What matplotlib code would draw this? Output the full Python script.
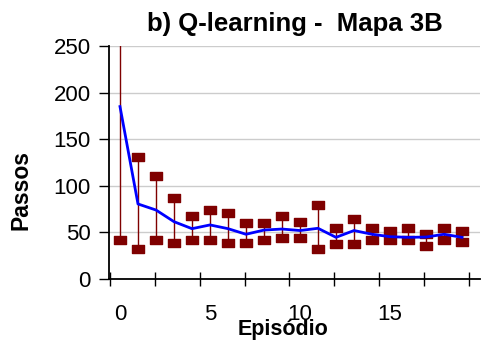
import matplotlib
matplotlib.use("Agg")
import matplotlib.pyplot as plt
from matplotlib.path import Path
import numpy as np

plt.rcParams['font.family'] = ['Liberation Sans', 'DejaVu Sans']

episodes = list(range(20))
mean_steps = [185, 80.5, 74, 61.5, 54, 58, 54, 48, 52.5, 53.6,
              52, 54.4, 44.7, 52, 48, 45.4, 44.7, 45, 48, 44.7]
lower_steps = [42, 32, 42, 39, 42, 42, 39, 39, 42, 43.7,
               43.7, 32, 38, 38, 42, 42, 42, 35.4, 42, 39.4]
upper_steps = [300, 131, 110, 87, 68, 74, 71, 60, 60, 68,
               61.5, 79, 55, 64.4, 55, 51.5, 55, 48, 55, 51.5]
y_ticks = [0, 50, 100, 150, 200, 250]
x_label_ticks = [0, 5, 10, 15]
x_mark_ticks = [-0.56 + 2.494 * k for k in range(9)]

red = '#7f0000'
fig = plt.figure(figsize=(4.83, 3.48), dpi=100)
ax = fig.add_axes([0.2257, 0.1983, 0.9938 - 0.2257, 0.8678 - 0.1983])

for e, lo, hi in zip(episodes, lower_steps, upper_steps):
    ax.plot([e, e], [lo, hi], color=red, lw=1.0, zorder=2)

rect = Path([(-1.4, -1), (1.4, -1), (1.4, 1), (-1.4, 1), (-1.4, -1)],
            [Path.MOVETO, Path.LINETO, Path.LINETO, Path.LINETO, Path.CLOSEPOLY])
ax.plot(episodes, lower_steps, ls='none', marker=rect, ms=9, color=red,
        mec=red, zorder=3)
ax.plot(episodes, upper_steps, ls='none', marker=rect, ms=9, color=red,
        mec=red, zorder=3)
ax.plot(episodes, mean_steps, color='#0000ff', lw=2.0, zorder=4)

ax.set_xlim(-0.61, 20.0)
ax.set_ylim(0, 250)
ax.set_yticks(y_ticks)
ax.yaxis.grid(True, color='#cccccc', lw=1.0)
ax.set_axisbelow(True)

ax.set_xticks(x_mark_ticks)
ax.set_xticklabels([])
ax.set_xticks(x_label_ticks, minor=True)
ax.set_xticklabels([str(v) for v in x_label_ticks], minor=True)
ax.tick_params(axis='x', which='major', direction='inout', length=10, width=1)
ax.tick_params(axis='x', which='minor', length=0, pad=18, labelsize=16)
ax.tick_params(axis='y', direction='out', length=7, width=1, pad=6, labelsize=16)

for s in ['top', 'right']:
    ax.spines[s].set_visible(False)
ax.spines['left'].set_linewidth(1.3)
ax.spines['bottom'].set_linewidth(1.3)

ax.set_title('b) Q-learning -  Mapa 3B', fontsize=18.5, fontweight='bold', pad=11)
ax.set_xlabel('Episódio', fontsize=15.5, fontweight='bold')
ax.xaxis.set_label_coords(0.469, -0.17)
ax.set_ylabel('Passos', fontsize=16.5, fontweight='bold')
ax.yaxis.set_label_coords(-0.205, 0.38)

fig.savefig('out.png', dpi=100)
